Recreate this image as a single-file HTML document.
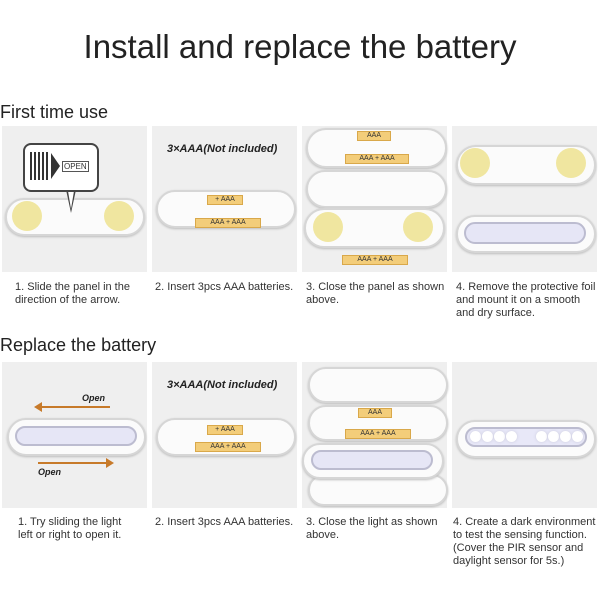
<!DOCTYPE html>
<html><head><style>
body{margin:0;width:600px;height:600px;background:#fff;position:relative;overflow:hidden;font-family:"Liberation Sans",sans-serif;color:#333}
.a{position:absolute}
.p{position:absolute;background:#efefef;width:145px;height:146px}
.pill{position:absolute;background:#fbfbfb;border:2px solid #d6d6d6;border-radius:30px;box-shadow:0 1px 2px #bbb}
.dot{position:absolute;background:#f0e6a0;border-radius:50%;width:30px;height:30px}
.bat{position:absolute;background:#f3cd7a;border:1px solid #d9a84a;font-size:7px;line-height:8px;height:8px;text-align:center;color:#333}
.led{position:absolute;background:#e6e6f6;border:2px solid #bcbcd0;border-radius:14px}
.cap{position:absolute;font-size:11px;line-height:13px;color:#333}
.h{position:absolute;font-size:18px;color:#222}
.t{font-style:italic;font-weight:bold;font-size:11px;position:absolute;color:#222}
.w{position:absolute;width:11px;height:11px;border-radius:50%;background:#fff;box-shadow:0 0 3px #ccd}
</style></head><body>
<div class="a" style="left:0;width:600px;top:28px;text-align:center;font-size:33px;color:#222">Install and replace the battery</div>
<div class="h" style="left:0;top:102px">First time use</div>
<div class="h" style="left:0;top:335px">Replace the battery</div>

<div class="p" style="left:2px;top:126px"></div>
<div class="p" style="left:152px;top:126px"></div>
<div class="p" style="left:302px;top:126px"></div>
<div class="p" style="left:452px;top:126px"></div>
<div class="pill" style="left:5px;top:198px;width:136px;height:34px"></div>
<div class="dot" style="left:12px;top:201px"></div><div class="dot" style="left:104px;top:201px"></div>
<div class="a" style="left:65px;top:185px;width:0;height:0;border-left:6px solid transparent;border-right:6px solid transparent;border-top:28px solid #444"></div>
<div class="a" style="left:67px;top:185px;width:0;height:0;border-left:4px solid transparent;border-right:4px solid transparent;border-top:24px solid #fff"></div>
<div class="a" style="left:23px;top:143px;width:72px;height:45px;background:#fff;border:2px solid #444;border-radius:8px"></div>
<div class="a" style="left:30px;top:152px;width:20px;height:28px;background:repeating-linear-gradient(90deg,#333 0 2px,transparent 2px 4px)"></div>
<div class="a" style="left:51px;top:153px;width:0;height:0;border-top:13px solid transparent;border-bottom:13px solid transparent;border-left:9px solid #333"></div>
<div class="a" style="left:62px;top:161px;font-size:8px;border:1px solid #555;line-height:9px;padding:0 1px">OPEN</div>
<div class="t" style="left:167px;top:143px">3×AAA(Not included)</div>
<div class="pill" style="left:156px;top:190px;width:136px;height:34px"></div>
<div class="bat" style="left:207px;top:195px;width:34px">+ AAA</div>
<div class="bat" style="left:195px;top:218px;width:64px">AAA + AAA</div>
<div class="pill" style="left:306px;top:128px;width:137px;height:36px"></div>
<div class="bat" style="left:357px;top:131px;width:32px">AAA</div>
<div class="bat" style="left:345px;top:154px;width:62px">AAA + AAA</div>
<div class="pill" style="left:306px;top:170px;width:137px;height:34px"></div>
<div class="pill" style="left:304px;top:208px;width:137px;height:36px"></div>
<div class="dot" style="left:313px;top:212px"></div><div class="dot" style="left:403px;top:212px"></div>
<div class="bat" style="left:342px;top:255px;width:64px">AAA + AAA</div>
<div class="pill" style="left:456px;top:145px;width:136px;height:36px"></div>
<div class="dot" style="left:460px;top:148px"></div><div class="dot" style="left:556px;top:148px"></div>
<div class="pill" style="left:456px;top:215px;width:136px;height:34px"></div>
<div class="led" style="left:464px;top:222px;width:118px;height:18px"></div>

<div class="cap" style="left:15px;top:281px">1. Slide the panel in the<br>direction of the arrow.</div>
<div class="cap" style="left:155px;top:281px">2. Insert 3pcs AAA batteries.</div>
<div class="cap" style="left:306px;top:281px">3. Close the panel as shown<br>above.</div>
<div class="cap" style="left:456px;top:281px">4. Remove the protective foil<br>and mount it on a smooth<br>and dry surface.</div>

<div class="p" style="left:2px;top:362px"></div>
<div class="p" style="left:152px;top:362px"></div>
<div class="p" style="left:302px;top:362px"></div>
<div class="p" style="left:452px;top:362px"></div>
<div class="t" style="left:82px;top:393px;font-size:9px">Open</div>
<div class="a" style="left:40px;top:406px;width:70px;height:2px;background:#c77a2a"></div>
<div class="a" style="left:34px;top:402px;border-top:5px solid transparent;border-bottom:5px solid transparent;border-right:8px solid #c77a2a"></div>
<div class="pill" style="left:7px;top:418px;width:135px;height:34px"></div>
<div class="led" style="left:15px;top:426px;width:118px;height:16px"></div>
<div class="a" style="left:38px;top:462px;width:70px;height:2px;background:#c77a2a"></div>
<div class="a" style="left:106px;top:458px;border-top:5px solid transparent;border-bottom:5px solid transparent;border-left:8px solid #c77a2a"></div>
<div class="t" style="left:38px;top:467px;font-size:9px">Open</div>
<div class="t" style="left:167px;top:379px">3×AAA(Not included)</div>
<div class="pill" style="left:156px;top:418px;width:136px;height:34px"></div>
<div class="bat" style="left:207px;top:425px;width:34px">+ AAA</div>
<div class="bat" style="left:195px;top:442px;width:64px">AAA + AAA</div>
<div class="pill" style="left:308px;top:367px;width:136px;height:32px"></div>
<div class="pill" style="left:308px;top:405px;width:136px;height:32px"></div>
<div class="bat" style="left:358px;top:408px;width:32px">AAA</div>
<div class="bat" style="left:345px;top:429px;width:64px">AAA + AAA</div>
<div class="pill" style="left:308px;top:474px;width:136px;height:28px"></div>
<div class="pill" style="left:302px;top:443px;width:138px;height:32px"></div>
<div class="led" style="left:311px;top:450px;width:118px;height:16px"></div>
<div class="pill" style="left:456px;top:420px;width:136px;height:34px"></div>
<div class="led" style="left:465px;top:427px;width:118px;height:16px;background:#e8e8f8"></div>
<div class="w" style="left:470px;top:431px"></div><div class="w" style="left:482px;top:431px"></div><div class="w" style="left:494px;top:431px"></div><div class="w" style="left:506px;top:431px"></div>
<div class="w" style="left:536px;top:431px"></div><div class="w" style="left:548px;top:431px"></div><div class="w" style="left:560px;top:431px"></div><div class="w" style="left:572px;top:431px"></div>

<div class="cap" style="left:18px;top:516px">1. Try sliding the light<br>left or right to open it.</div>
<div class="cap" style="left:155px;top:516px">2. Insert 3pcs AAA batteries.</div>
<div class="cap" style="left:306px;top:516px">3. Close the light as shown<br>above.</div>
<div class="cap" style="left:453px;top:516px">4. Create a dark environment<br>to test the sensing function.<br>(Cover the PIR sensor and<br>daylight sensor for 5s.)</div>
</body></html>
